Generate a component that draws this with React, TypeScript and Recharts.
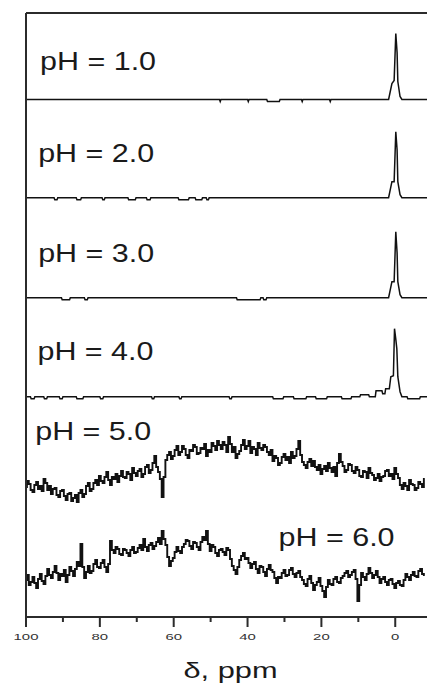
import React from "react";
import {
  ComposedChart,
  Line,
  XAxis,
  YAxis,
  ReferenceLine,
  ReferenceDot,
  Label,
} from "recharts";

// chemical shift grid (ppm) for the two broad spectra
const ppmGrid = [
  100, 99.5, 99, 98.5, 98, 97.5, 97, 96.5, 96, 95.5, 95, 94.5, 94, 93.5, 93, 92.5, 92, 91.5, 91, 90.5,
  90, 89.5, 89, 88.5, 88, 87.5, 87, 86.5, 86, 85.5, 85, 84.5, 84, 83.5, 83, 82.5, 82, 81.5, 81, 80.5,
  80, 79.5, 79, 78.5, 78, 77.5, 77, 76.5, 76, 75.5, 75, 74.5, 74, 73.5, 73, 72.5, 72, 71.5, 71, 70.5,
  70, 69.5, 69, 68.5, 68, 67.5, 67, 66.5, 66, 65.5, 65, 64.5, 64, 63.5, 63, 62.5, 62, 61.5, 61, 60.5,
  60, 59.5, 59, 58.5, 58, 57.5, 57, 56.5, 56, 55.5, 55, 54.5, 54, 53.5, 53, 52.5, 52, 51.5, 51, 50.5,
  50, 49.5, 49, 48.5, 48, 47.5, 47, 46.5, 46, 45.5, 45, 44.5, 44, 43.5, 43, 42.5, 42, 41.5, 41, 40.5,
  40, 39.5, 39, 38.5, 38, 37.5, 37, 36.5, 36, 35.5, 35, 34.5, 34, 33.5, 33, 32.5, 32, 31.5, 31, 30.5,
  30, 29.5, 29, 28.5, 28, 27.5, 27, 26.5, 26, 25.5, 25, 24.5, 24, 23.5, 23, 22.5, 22, 21.5, 21, 20.5,
  20, 19.5, 19, 18.5, 18, 17.5, 17, 16.5, 16, 15.5, 15, 14.5, 14, 13.5, 13, 12.5, 12, 11.5, 11, 10.5,
  10, 9.5, 9, 8.5, 8, 7.5, 7, 6.5, 6, 5.5, 5, 4.5, 4, 3.5, 3, 2.5, 2, 1.5, 1, 0.5,
  0, -0.5, -1, -1.5, -2, -2.5, -3, -3.5, -4, -4.5, -5, -5.5, -6, -6.5, -7, -7.5, -8,
];

const ph5Values = [
  20, 26, 23, 17, 15, 22, 25, 18, 21, 16, 28, 24, 17, 21, 13, 18, 19, 12, 10, 16,
  17, 11, 7, 13, 14, 6, 9, 12, 5, 14, 17, 10, 13, 21, 24, 16, 18, 24, 27, 22,
  31, 26, 24, 30, 35, 27, 22, 30, 28, 33, 25, 31, 36, 30, 29, 35, 33, 27, 39, 34,
  31, 36, 38, 30, 33, 40, 42, 34, 37, 44, 51, 40, 35, 28, 10, 30, 47, 52, 55, 48,
  51, 57, 61, 52, 55, 61, 58, 52, 49, 57, 56, 62, 60, 53, 54, 59, 58, 63, 51, 57,
  55, 64, 61, 57, 66, 62, 58, 65, 62, 55, 70, 63, 55, 60, 49, 53, 56, 62, 67, 58,
  61, 66, 54, 60, 58, 52, 64, 59, 57, 62, 60, 55, 52, 57, 46, 51, 49, 42, 44, 50,
  53, 47, 50, 44, 55, 49, 51, 58, 66, 52, 45, 42, 39, 45, 48, 41, 46, 40, 37, 42,
  33, 38, 41, 36, 44, 39, 35, 40, 31, 44, 53, 45, 41, 35, 37, 43, 42, 36, 34, 40,
  37, 31, 30, 36, 35, 29, 39, 34, 32, 27, 29, 33, 26, 30, 31, 36, 37, 31, 33, 28,
  39, 33, 29, 22, 18, 24, 21, 17, 27, 23, 22, 17, 19, 25, 23, 20, 28,
];

const ph6Values = [
  17, 22, 12, 15, 20, 14, 9, 18, 23, 16, 13, 21, 28, 22, 19, 25, 31, 24, 17, 23,
  21, 27, 15, 22, 30, 26, 21, 28, 35, 31, 53, 30, 19, 25, 31, 24, 26, 33, 37, 30,
  29, 34, 37, 30, 25, 33, 56, 47, 44, 50, 48, 43, 42, 48, 47, 44, 41, 47, 50, 44,
  45, 49, 52, 47, 58, 50, 46, 52, 54, 48, 51, 55, 59, 53, 66, 58, 52, 40, 31, 36,
  39, 45, 50, 46, 44, 50, 53, 57, 56, 51, 48, 55, 54, 50, 47, 55, 60, 57, 66, 53,
  46, 52, 50, 44, 41, 47, 48, 45, 42, 49, 47, 38, 31, 27, 23, 30, 37, 41, 44, 38,
  39, 34, 29, 33, 35, 28, 24, 31, 30, 25, 21, 28, 32, 27, 25, 19, 14, 20, 19, 24,
  27, 21, 22, 27, 29, 23, 20, 24, 26, 20, 17, 13, 11, 18, 21, 14, 7, 12, 15, 19,
  11, 6, 0, 10, 17, 13, 12, 18, 20, 15, 14, 19, 21, 24, 26, 20, 22, 25, 27, 18,
  -4, 12, 24, 20, 17, 23, 29, 24, 19, 22, 26, 20, 14, 18, 20, 15, 12, 17, 18, 13,
  9, 14, 16, 12, 11, 17, 23, 20, 17, 22, 25, 21, 20, 26, 28, 23, 22,
];

// sharp spectra: [ppm, intensity]
const ph1Trace: [number, number][] = [
  [100, 0], [47.6, 0], [47.4, -2], [47.2, 0], [40.0, 0], [39.8, -2], [39.6, 0],
  [34.8, 0], [34.6, -2], [31.4, -2], [31.2, 0], [25.4, 0], [25.2, -2], [25.0, 0],
  [17.8, 0], [17.6, -2], [17.4, 0], [1.8, 0], [0.9, 16], [0.3, 19], [-0.15, 66],
  [-0.5, 47], [-0.7, 18], [-1.3, 3], [-1.8, 0], [-8.6, 0],
];

const ph2Trace: [number, number][] = [
  [100, 0], [92.4, 0], [92.2, -2], [91.6, -2], [91.4, 0], [86.4, 0], [86.2, -2],
  [85.2, -2], [85.0, 0], [79.4, 0], [79.2, -2], [78.8, -2], [78.6, 0], [72.4, 0],
  [72.2, -2], [70.4, -2], [70.2, 0], [67.4, 0], [67.2, -2], [66.4, -2], [66.2, 0],
  [58.8, 0], [58.6, -2], [56.0, -2], [55.8, 0], [54.2, 0], [54.0, -2], [52.4, -2],
  [52.2, 0], [51.2, 0], [51.0, -2], [50.6, -2], [50.4, 0], [1.8, 0], [0.9, 16],
  [0.3, 16], [-0.15, 66], [-0.5, 48], [-0.7, 16], [-1.3, 3], [-1.8, 0], [-8.6, 0],
];

const ph3Trace: [number, number][] = [
  [100, 0], [90.4, 0], [90.2, -2], [88.2, -2], [88.0, 0], [84.2, 0], [84.0, -2],
  [83.4, -2], [83.2, 0], [43.0, 0], [42.8, -2], [36.6, -2], [36.4, 0], [35.8, 0],
  [35.6, -2], [35.0, -2], [34.8, 0], [1.8, 0], [0.9, 16], [0.3, 16], [-0.15, 66],
  [-0.5, 45], [-0.7, 16], [-1.3, 3], [-1.8, 0], [-8.6, 0],
];

const ph4Trace: [number, number][] = [
  [100, 0], [98.8, 0], [98.6, -2], [97.8, -2], [97.6, 0], [95.2, 0], [95.0, -2],
  [94.4, -2], [94.2, 0], [91.0, 0], [90.8, -2], [90.2, -2], [90.0, 0], [86.4, 0],
  [86.2, -2], [84.6, -2], [84.4, 0], [80.0, 0], [79.8, -2], [79.2, -2], [79.0, 0],
  [66.0, 0], [65.8, -2], [65.4, -2], [65.2, 0], [58.6, 0], [58.4, -2], [58.0, -2],
  [57.8, 0], [45.0, 0], [44.8, -2], [44.4, -2], [44.2, 0], [33.2, 0], [33.0, -2],
  [30.4, -2], [30.2, 0], [27.6, 0], [27.4, -2], [24.2, -2], [24.0, 0], [21.6, 0],
  [21.4, -2], [18.6, -2], [18.4, 0], [14.6, 0], [14.4, -2], [12.0, -2], [11.8, 0],
  [9.6, 0], [9.4, 2], [7.2, 2], [7.0, 0], [5.4, 0], [5.2, 6], [3.6, 6], [3.4, 3],
  [2.8, 3], [2.6, 8], [1.6, 8], [1.2, 20], [0.5, 21], [0.2, 68], [-0.16, 57],
  [-0.43, 48], [-0.7, 20], [-1.3, 5], [-1.8, 0], [-3.2, 0], [-3.4, -2], [-6.6, -2],
  [-6.8, 0], [-8.6, 0],
];

// vertical stacking offsets, pH 1 .. pH 6
const baselines = [517.5, 419.3, 319.3, 220.3, 110, 20];

const phLabels = ["pH = 1.0", "pH = 2.0", "pH = 3.0", "pH = 4.0", "pH = 5.0", "pH = 6.0"];
const labelPpm = [96.2, 96.7, 96.7, 96.9, 97.5, 31.6];
const labelLevel = [547, 455.3, 354.7, 257, 177, 71.3];

const allTicks = [100, 90, 80, 70, 60, 50, 40, 30, 20, 10, 0];
const majorTicks = [100, 80, 60, 40, 20, 0];

const fromPairs = (pairs: [number, number][], base: number) =>
  pairs.map(([ppm, v]) => ({ ppm, y: v + base }));
const fromGrid = (values: number[], base: number) =>
  ppmGrid.map((ppm, i) => ({ ppm, y: values[i] + base }));

const series = [
  { data: fromPairs(ph1Trace, baselines[0]), type: "linear", w: 1.5 },
  { data: fromPairs(ph2Trace, baselines[1]), type: "linear", w: 1.5 },
  { data: fromPairs(ph3Trace, baselines[2]), type: "linear", w: 1.5 },
  { data: fromPairs(ph4Trace, baselines[3]), type: "linear", w: 1.5 },
  { data: fromGrid(ph5Values, baselines[4]), type: "step", w: 1.9 },
  { data: fromGrid(ph6Values, baselines[5]), type: "step", w: 1.9 },
];

const FONT = "Arial, 'Liberation Sans', sans-serif";
const AXIS = "#2b2b2b";

const AxisTick = (props: any) => {
  const { x, y, payload } = props;
  const major = majorTicks.includes(payload.value);
  const txt = String(payload.value);
  return (
    <g>
      <line x1={x} y1={y} x2={x} y2={y + (major ? 10 : 5)} stroke={AXIS} strokeWidth={2} />
      {major && (
        <text
          x={x}
          y={y + 23}
          textAnchor="middle"
          fontSize={9.5}
          fontFamily={FONT}
          fill="#333"
          textLength={txt.length * 8.3}
          lengthAdjust="spacingAndGlyphs"
        >
          {txt}
        </text>
      )}
    </g>
  );
};

const AxisTitle = (props: any) => {
  const vb = props.viewBox;
  return (
    <text
      x={vb.x + vb.width / 2 + 4}
      y={vb.y + 61}
      textAnchor="middle"
      fontSize={22}
      fontFamily={FONT}
      fill="#1a1a1a"
      textLength={94}
      lengthAdjust="spacingAndGlyphs"
    >
      δ, ppm
    </text>
  );
};

const phLabel = (text: string) => (props: any) => {
  const vb = props.viewBox;
  return (
    <text
      x={vb.x}
      y={vb.y}
      fontSize={25}
      fontFamily={FONT}
      fill="#1a1a1a"
      textLength={116}
      lengthAdjust="spacingAndGlyphs"
    >
      {text}
    </text>
  );
};

export default function App() {
  return (
    <div style={{ position: "absolute", left: 0, top: 0, width: 427, height: 685, background: "#fff" }}>
      <ComposedChart width={427} height={685} margin={{ top: 13, right: 0, bottom: 0, left: 0 }}>
        <XAxis
          dataKey="ppm"
          type="number"
          domain={[-8.6, 100]}
          allowDataOverflow
          reversed
          ticks={allTicks}
          interval={0}
          height={68}
          tickSize={0}
          tickMargin={0}
          tickLine={false}
          tick={<AxisTick />}
          axisLine={{ stroke: AXIS, strokeWidth: 2 }}
        >
          <Label content={<AxisTitle />} />
        </XAxis>
        <YAxis
          type="number"
          domain={[0, 604]}
          allowDataOverflow
          width={26}
          tick={false}
          tickLine={false}
          axisLine={{ stroke: AXIS, strokeWidth: 2 }}
        />
        <ReferenceLine y={604} stroke={AXIS} strokeWidth={2} />
        {series.map((s, i) => (
          <Line
            key={i}
            data={s.data}
            dataKey="y"
            type={s.type as any}
            dot={false}
            stroke="#111"
            strokeWidth={s.w}
            isAnimationActive={false}
          />
        ))}
        {phLabels.map((t, i) => (
          <ReferenceDot
            key={t}
            x={labelPpm[i]}
            y={labelLevel[i]}
            r={0}
            fill="none"
            stroke="none"
            label={phLabel(t)}
          />
        ))}
      </ComposedChart>
    </div>
  );
}
